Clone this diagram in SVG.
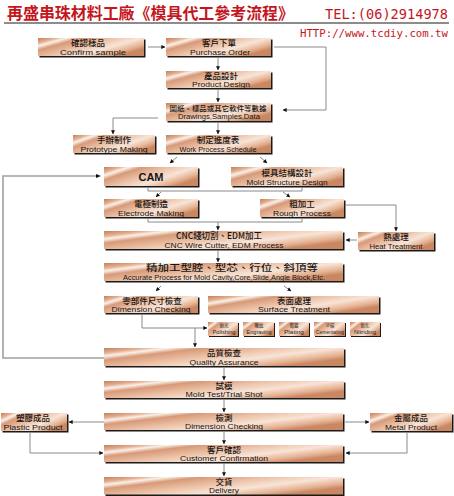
<svg xmlns="http://www.w3.org/2000/svg" width="454" height="496" viewBox="0 0 454 496">
<defs>
<linearGradient id="g" x1="0" y1="0" x2="1" y2="0.6">
<stop offset="0" stop-color="#c4805a"/>
<stop offset="0.12" stop-color="#e2ad8e"/>
<stop offset="0.2" stop-color="#fbf0e8"/>
<stop offset="0.3" stop-color="#d79a78"/>
<stop offset="0.5" stop-color="#ebbfa4"/>
<stop offset="0.72" stop-color="#f8e4d6"/>
<stop offset="0.9" stop-color="#e4b090"/>
<stop offset="1" stop-color="#c98762"/>
</linearGradient>
<marker id="a" viewBox="0 0 6 6" refX="5.5" refY="3" markerWidth="4" markerHeight="4" orient="auto" markerUnits="userSpaceOnUse">
<path d="M0,0 L6,3 L0,6 z" fill="#111"/>
</marker>
</defs>
<style>
.sh{fill:#1a1a1a}
.bx{fill:url(#g)}
.zh{font-family:"Noto Sans CJK TC","Noto Sans CJK SC",sans-serif;font-size:8.5px;font-weight:500;fill:#151515;text-anchor:middle}
.en{font-family:"Liberation Sans",Arial,sans-serif;font-size:8px;fill:#151515;text-anchor:middle}
.szh{font-family:"Noto Sans CJK TC","Noto Sans CJK SC",sans-serif;font-size:4.5px;fill:#222;text-anchor:middle}
.sen{font-family:"Liberation Sans",Arial,sans-serif;font-size:5px;fill:#222;text-anchor:middle}
.c{fill:none;stroke:#8a8a8a;stroke-width:1}
.ca{fill:none;stroke:#8a8a8a;stroke-width:1;marker-end:url(#a)}
.loop{fill:none;stroke:#a0a0a0;stroke-width:1.6}
</style>
<rect width="454" height="496" fill="#ffffff"/>
<g id="header">
<text x="7" y="19" font-family="'Noto Sans CJK TC','Noto Sans CJK SC',sans-serif" font-size="16" font-weight="bold" fill="#c4161c" textLength="287" lengthAdjust="spacingAndGlyphs">再盛串珠材料工廠《模具代工參考流程》</text>
<text x="325" y="19" font-family="'DejaVu Sans Mono','Liberation Mono',monospace" font-size="14" fill="#c4161c" textLength="123" lengthAdjust="spacingAndGlyphs">TEL:(06)2914978</text>
<line x1="4" y1="23" x2="449" y2="23" stroke="#8c8c8c" stroke-width="2"/>
<text x="300" y="37" font-family="'DejaVu Sans Mono','Liberation Mono',monospace" font-size="11" fill="#c4161c" textLength="148" lengthAdjust="spacingAndGlyphs">HTTP://www.tcdiy.com.tw</text>
</g>
<g id="connectors">
<path class="ca" d="M148,47 H165"/>
<path class="ca" d="M274,47 H326 V110 H283"/>
<path class="ca" d="M218,58 V70"/>
<path class="ca" d="M218,90 V102"/>
<path class="ca" d="M158,118 H113 V134"/>
<path class="ca" d="M218,123 V134"/>
<path class="ca" d="M177,157 L170,163"/>
<path class="ca" d="M260,157 L267,163"/>
<path class="loop" d="M104,358 H3 V176 H96"/>
<path d="M96,174 L101,176 L96,178 z" fill="#111"/>
<path class="c" d="M148,188 V191 H302 V188"/>
<path class="ca" d="M161,192 L156,197"/>
<path class="ca" d="M283,192 L290,197"/>
<path class="c" d="M148,219 V222 H302 V219"/>
<path class="ca" d="M218,222 V230"/>
<path class="ca" d="M346,205 H396 V231"/>
<path class="ca" d="M357,240 H346"/>
<path class="ca" d="M218,251 V262"/>
<path class="ca" d="M161,286 L156,291"/>
<path class="ca" d="M284,286 L291,291"/>
<path class="ca" d="M142,315 V328 H207"/>
<path class="ca" d="M195,328 V347"/>
<path class="ca" d="M224,368 V380"/>
<path class="ca" d="M224,400 V412"/>
<path class="ca" d="M104,422 H69"/>
<path class="ca" d="M345,422 H369"/>
<path class="ca" d="M30,433 V453 H103"/>
<path class="ca" d="M407,433 V453 H346"/>
<path class="ca" d="M224,432 V444"/>
<path class="ca" d="M224,464 V476"/>
</g>
<g id="n-confirm"><rect class="sh" x="39.5" y="39.5" width="106" height="18"/><rect class="bx" x="38" y="38" width="106" height="18"/><text class="zh" x="88" y="46">確認樣品</text><text class="en" x="93" y="54.7" textLength="66" lengthAdjust="spacingAndGlyphs">Confirm sample</text></g>
<g id="n-po"><rect class="sh" x="167.5" y="39.5" width="105" height="18"/><rect class="bx" x="166" y="38" width="105" height="18"/><text class="zh" x="219" y="46">客戶下單</text><text class="en" x="220" y="54.7" textLength="60" lengthAdjust="spacingAndGlyphs">Purchase Order</text></g>
<g id="n-pd"><rect class="sh" x="167.5" y="72.5" width="105" height="17"/><rect class="bx" x="166" y="71" width="105" height="17"/><text class="zh" x="221" y="78.5">產品設計</text><text class="en" x="221" y="87.2" textLength="58" lengthAdjust="spacingAndGlyphs">Product Design</text></g>
<g id="n-drawings"><rect class="sh" x="167.5" y="104.5" width="105" height="18"/><rect class="bx" x="166" y="103" width="105" height="18"/><text class="zh" x="218" y="110.5" style="font-size:7px" textLength="97" lengthAdjust="spacingAndGlyphs">圖紙、樣品或其它軟件等數據</text><text class="en" x="219" y="119.2" textLength="82" lengthAdjust="spacingAndGlyphs">Drawings,Samples,Data</text></g>
<g id="n-proto"><rect class="sh" x="74.5" y="136.5" width="82" height="18"/><rect class="bx" x="73" y="135" width="82" height="18"/><text class="zh" x="114" y="143">手辦制作</text><text class="en" x="114" y="151.7" textLength="67" lengthAdjust="spacingAndGlyphs">Prototype Making</text></g>
<g id="n-wps"><rect class="sh" x="167.5" y="136.5" width="105" height="18"/><rect class="bx" x="166" y="135" width="105" height="18"/><text class="zh" x="218" y="143">制定進度表</text><text class="en" x="218" y="151.7" textLength="77" lengthAdjust="spacingAndGlyphs">Work Process Schedule</text></g>
<g id="n-cam"><rect class="sh" x="105.5" y="168.5" width="94" height="19"/><rect class="bx" x="104" y="167" width="94" height="19"/><text class="en" x="151" y="180.5" style="font-size:11px;font-weight:bold">CAM</text></g>
<g id="n-mold"><rect class="sh" x="232.5" y="168.5" width="112" height="19"/><rect class="bx" x="231" y="167" width="112" height="19"/><text class="zh" x="287" y="175.5">模具結構設計</text><text class="en" x="287" y="184.7" textLength="81" lengthAdjust="spacingAndGlyphs">Mold Structure Design</text></g>
<g id="n-electrode"><rect class="sh" x="105.5" y="200.5" width="94" height="18"/><rect class="bx" x="104" y="199" width="94" height="18"/><text class="zh" x="151" y="207">電極制造</text><text class="en" x="151" y="215.7" textLength="66" lengthAdjust="spacingAndGlyphs">Electrode Making</text></g>
<g id="n-rough"><rect class="sh" x="261.5" y="200.5" width="84" height="18"/><rect class="bx" x="260" y="199" width="84" height="18"/><text class="zh" x="302" y="207">粗加工</text><text class="en" x="302" y="215.7" textLength="58" lengthAdjust="spacingAndGlyphs">Rough Process</text></g>
<g id="n-heat"><rect class="sh" x="359.5" y="233.5" width="76" height="18"/><rect class="bx" x="358" y="232" width="76" height="18"/><text class="zh" x="396" y="240">熱處理</text><text class="en" x="396" y="248.7" textLength="53" lengthAdjust="spacingAndGlyphs">Heat Treatment</text></g>
<g id="n-cnc"><rect class="sh" x="105.5" y="232.5" width="239" height="18"/><rect class="bx" x="104" y="231" width="239" height="18"/><text class="zh" x="219" y="239" style="font-size:9px" textLength="86" lengthAdjust="spacingAndGlyphs">CNC綫切割、EDM加工</text><text class="en" x="224" y="247.7" textLength="119" lengthAdjust="spacingAndGlyphs">CNC Wire Cutter, EDM Process</text></g>
<g id="n-accurate"><rect class="sh" x="105.5" y="264.5" width="239" height="18"/><rect class="bx" x="104" y="263" width="239" height="18"/><text class="zh" x="232" y="271" style="font-size:9px" textLength="172" lengthAdjust="spacingAndGlyphs">精加工型腔、型芯、行位、斜頂等</text><text class="en" x="224" y="279.7" textLength="202" lengthAdjust="spacingAndGlyphs">Accurate Process for Mold Cavity,Core,Slide,Angle Block,Etc.</text></g>
<g id="n-dim"><rect class="sh" x="105.5" y="297.5" width="94" height="17"/><rect class="bx" x="104" y="296" width="94" height="17"/><text class="zh" x="152" y="303.5">零部件尺寸檢查</text><text class="en" x="151" y="312.2" textLength="79" lengthAdjust="spacingAndGlyphs">Dimension Checking</text></g>
<g id="n-surface"><rect class="sh" x="209.5" y="297.5" width="171" height="17"/><rect class="bx" x="208" y="296" width="171" height="17"/><text class="zh" x="294" y="303.5">表面處理</text><text class="en" x="294" y="312.2" textLength="72" lengthAdjust="spacingAndGlyphs">Surface Treatment</text></g>
<g id="n-polishing"><rect class="sh" x="209" y="323" width="30" height="14"/><rect class="bx" x="208" y="322" width="30" height="14"/><text class="szh" x="224" y="327.3">拋光</text><text class="sen" x="224" y="334.2" textLength="23" lengthAdjust="spacingAndGlyphs">Polishing</text></g>
<g id="n-engraving"><rect class="sh" x="244" y="323" width="31" height="14"/><rect class="bx" x="243" y="322" width="31" height="14"/><text class="szh" x="259" y="327.3">雕紋</text><text class="sen" x="259" y="334.2" textLength="25" lengthAdjust="spacingAndGlyphs">Engraving</text></g>
<g id="n-plating"><rect class="sh" x="280" y="323" width="30" height="14"/><rect class="bx" x="279" y="322" width="30" height="14"/><text class="szh" x="294" y="327.3">電鍍</text><text class="sen" x="294" y="334.2" textLength="20" lengthAdjust="spacingAndGlyphs">Plating</text></g>
<g id="n-cementating"><rect class="sh" x="315" y="323" width="31" height="14"/><rect class="bx" x="314" y="322" width="31" height="14"/><text class="szh" x="330" y="327.3">滲碳</text><text class="sen" x="330" y="334.2" textLength="28" lengthAdjust="spacingAndGlyphs">Cementating</text></g>
<g id="n-nitriding"><rect class="sh" x="351" y="323" width="30" height="14"/><rect class="bx" x="350" y="322" width="30" height="14"/><text class="szh" x="365" y="327.3">氮化</text><text class="sen" x="365" y="334.2" textLength="22" lengthAdjust="spacingAndGlyphs">Nitriding</text></g>
<g id="n-qa"><rect class="sh" x="105.5" y="349.5" width="240" height="18"/><rect class="bx" x="104" y="348" width="240" height="18"/><text class="zh" x="224" y="356">品質檢查</text><text class="en" x="224" y="364.7" textLength="69" lengthAdjust="spacingAndGlyphs">Quality Assurance</text></g>
<g id="n-moldtest"><rect class="sh" x="105.5" y="382.5" width="240" height="17"/><rect class="bx" x="104" y="381" width="240" height="17"/><text class="zh" x="224" y="388.5">試模</text><text class="en" x="224" y="397.2" textLength="77" lengthAdjust="spacingAndGlyphs">Mold Test/Trial Shot</text></g>
<g id="n-dim2"><rect class="sh" x="105.5" y="414.5" width="239" height="17"/><rect class="bx" x="104" y="413" width="239" height="17"/><text class="zh" x="224" y="420.5">檢測</text><text class="en" x="224" y="429.2" textLength="78" lengthAdjust="spacingAndGlyphs">Dimension Checking</text></g>
<g id="n-plastic"><rect class="sh" x="2.5" y="414.5" width="66" height="18"/><rect class="bx" x="1" y="413" width="66" height="18"/><text class="zh" x="33" y="421">塑膠成品</text><text class="en" x="33" y="429.7" textLength="59" lengthAdjust="spacingAndGlyphs">Plastic Product</text></g>
<g id="n-metal"><rect class="sh" x="371.5" y="414.5" width="82" height="18"/><rect class="bx" x="370" y="413" width="82" height="18"/><text class="zh" x="411" y="421">金屬成品</text><text class="en" x="411" y="429.7" textLength="52" lengthAdjust="spacingAndGlyphs">Metal Product</text></g>
<g id="n-customer"><rect class="sh" x="105.5" y="446.5" width="239" height="17"/><rect class="bx" x="104" y="445" width="239" height="17"/><text class="zh" x="224" y="452.5">客戶確認</text><text class="en" x="224" y="461.2" textLength="88" lengthAdjust="spacingAndGlyphs">Customer Confirmation</text></g>
<g id="n-delivery"><rect class="sh" x="105.5" y="478.5" width="239" height="17.5"/><rect class="bx" x="104" y="477" width="239" height="17.5"/><text class="zh" x="224" y="484.5">交貨</text><text class="en" x="224" y="493.2" textLength="30" lengthAdjust="spacingAndGlyphs">Delivery</text></g>
</svg>
